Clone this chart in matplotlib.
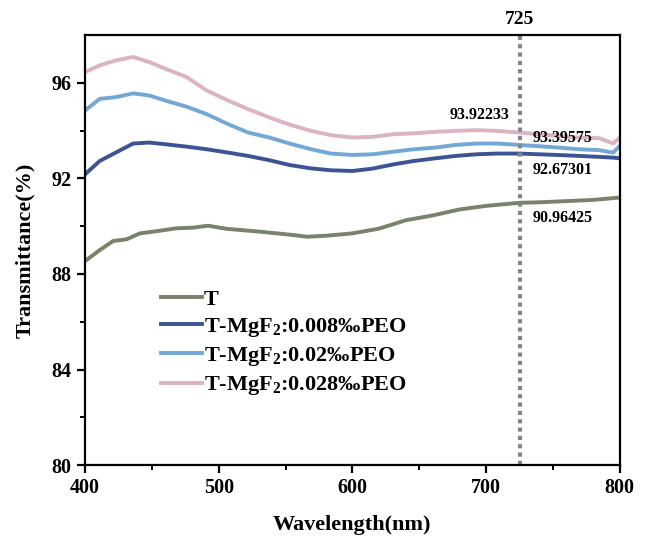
import matplotlib
matplotlib.use("Agg")
import matplotlib.pyplot as plt

plt.rcParams['font.family'] = ['Liberation Serif', 'DejaVu Serif']
plt.rcParams['font.weight'] = 'bold'
plt.rcParams['mathtext.fontset'] = 'custom'
plt.rcParams['mathtext.rm'] = 'Liberation Serif:bold'
plt.rcParams['mathtext.it'] = 'Liberation Serif:bold'
plt.rcParams['mathtext.bf'] = 'Liberation Serif:bold'

# values
wl_t = [400, 411, 421, 431, 441, 456, 468, 481, 492, 506, 531, 556, 566, 580,
        600, 620, 640, 660, 680, 700, 725, 740, 760, 780, 800]
t = [88.54, 89.0, 89.38, 89.45, 89.7, 89.81, 89.91, 89.94, 90.02, 89.89, 89.77,
     89.63, 89.56, 89.6, 89.7, 89.9, 90.25, 90.45, 90.7, 90.85, 90.98, 91.0,
     91.05, 91.1, 91.2]

wl = [400, 411, 423, 436, 448, 460, 476, 491, 507, 522, 538, 553, 569, 584,
      600, 615, 631, 646, 662, 677, 693, 708, 725, 739, 754, 770, 785, 795, 800]
peo_008 = [92.17, 92.73, 93.08, 93.46, 93.5, 93.43, 93.33, 93.22, 93.08, 92.94,
           92.76, 92.56, 92.42, 92.34, 92.31, 92.41, 92.59, 92.73, 92.84, 92.94,
           93.01, 93.04, 93.04, 93.01, 92.98, 92.94, 92.9, 92.87, 92.84]
peo_02 = [94.84, 95.33, 95.4, 95.56, 95.47, 95.26, 95.0, 94.69, 94.27, 93.92,
          93.71, 93.46, 93.22, 93.04, 92.98, 93.01, 93.12, 93.22, 93.29, 93.4,
          93.46, 93.46, 93.4, 93.35, 93.29, 93.22, 93.18, 93.08, 93.36]
peo_028 = [96.45, 96.73, 96.94, 97.08, 96.87, 96.59, 96.24, 95.68, 95.26, 94.9,
           94.55, 94.25, 93.99, 93.81, 93.71, 93.74, 93.85, 93.89, 93.95, 93.99,
           94.02, 93.99, 93.92, 93.85, 93.78, 93.71, 93.68, 93.46, 93.71]

labels = ['T', r'T-MgF$_2$:0.008‰PEO', r'T-MgF$_2$:0.02‰PEO', r'T-MgF$_2$:0.028‰PEO']
colors = ['#78836a', '#3d5494', '#73a7d5', '#dbb3c3']

mark_x = 725
notes = ['93.92233', '93.39575', '92.67301', '90.96425']
note_xy = [(695, 94.64), (757, 93.68), (757, 92.34), (757, 90.33)]

fig = plt.figure(figsize=(6.49, 5.39), dpi=100)
ax = fig.add_axes([0.131, 0.137, 0.824, 0.798])

ax.plot(wl_t, t, color=colors[0], lw=2.8, label=labels[0])
ax.plot(wl, peo_008, color=colors[1], lw=2.8, label=labels[1])
ax.plot(wl, peo_02, color=colors[2], lw=2.8, label=labels[2])
ax.plot(wl, peo_028, color=colors[3], lw=2.8, label=labels[3])

ax.axvline(mark_x, color='#858585', lw=3, ls=(0, (1, 1)))
ax.text(mark_x, 98.3, str(mark_x), ha='center', va='bottom', fontsize=14, fontweight='bold')
for s, (x, y) in zip(notes, note_xy):
    ax.text(x, y, s, ha='center', va='center', fontsize=11.5, fontweight='bold')

ax.set_xlim(400, 800)
ax.set_ylim(80, 98)
ax.set_xticks([400, 500, 600, 700, 800])
ax.set_xticks([450, 550, 650, 750], minor=True)
ax.set_yticks([80, 84, 88, 92, 96])
ax.set_yticks([82, 86, 90, 94], minor=True)
ax.tick_params(which='major', length=6, width=1.6, labelsize=14.5, direction='out')
ax.tick_params(which='minor', length=3.5, width=1.4, direction='out')
for sp in ax.spines.values():
    sp.set_linewidth(1.6)

ax.set_xlabel('Wavelength(nm)', fontsize=16, fontweight='bold', labelpad=12)
ax.set_ylabel('Transmittance(%)', fontsize=16, fontweight='bold', labelpad=12)

leg = ax.legend(loc='upper left', bbox_to_anchor=(0.125, 0.43), frameon=False,
                fontsize=16, handlelength=1.85, handletextpad=0.1, labelspacing=0.28,
                borderaxespad=0)

fig.savefig('out.png', dpi=100)
